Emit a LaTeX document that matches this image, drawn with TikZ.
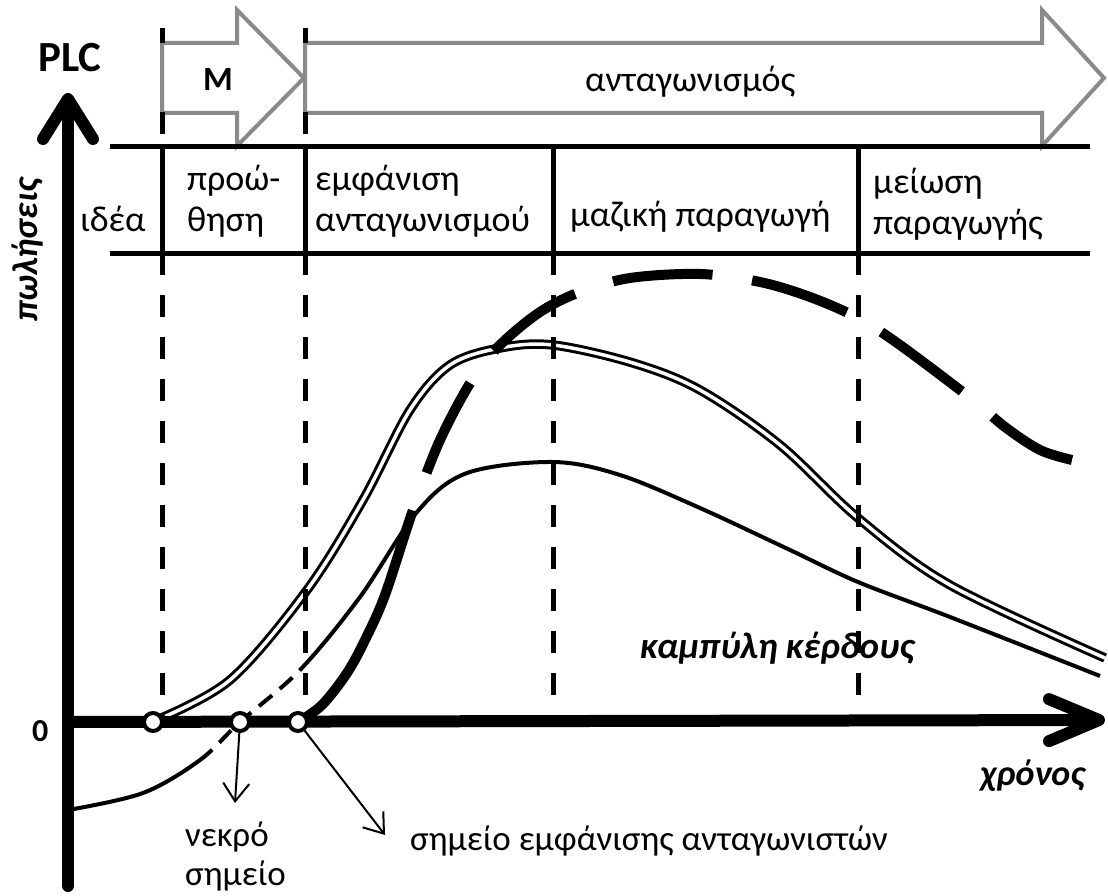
\documentclass[tikz,border=0pt]{standalone}
\usepackage{fontspec}
\setmainfont{Carlito}
\usetikzlibrary{arrows.meta,positioning}
\definecolor{bandgrey}{HTML}{8A8A8A}
\begin{document}
\begin{tikzpicture}[x=1pt,y=-1pt,
 txt/.style={font=\fontsize{36}{41}\selectfont,inner sep=0pt,align=left,anchor=base west},
 small/.style={txt,font=\fontsize{35}{39}\selectfont},
 heavy/.style={txt,font=\fontsize{36}{41}\selectfont\bfseries},
 slant/.style={txt,font=\fontsize{36}{41}\selectfont\bfseries\itshape},
 axis/.style={line width=12pt,line cap=round},
 phase/.style={line width=5pt,dash pattern=on 22pt off 20pt},
 rule/.style={line width=5pt},
 band/.style={draw=bandgrey,line width=4pt,fill=white},
 sales/.style={line width=3pt,double=white,double distance=3.5pt},
 profit/.style={line width=4pt,dash pattern=on 159pt off 10pt on 17pt off 10pt on 17pt off 10pt on 17pt off 10pt on 17pt off 10pt on 3000pt},
 rivals/.style={line width=10pt,dash pattern=on 246pt off 40pt on 100pt off 40pt on 100pt off 40pt on 100pt off 40pt on 100pt off 40pt on 100pt off 40pt on 100pt off 40pt},
 dot/.style={circle,draw,line width=4pt,fill=white,minimum size=18pt,inner sep=0pt},
 ann/.style={-{Straight Barb[length=18pt,width=26pt]},line width=2pt}]
\useasboundingbox (0,0) rectangle (1108,896);
\coordinate (orig) at (68,722); \coordinate (ytop) at (68,93); \coordinate (ybot) at (68,886); \coordinate (xend) at (1105,720);
\draw[band] (162,43) -- (237,43) -- (237,10) -- (304,78) -- (237,146) -- (237,113) -- (162,113) -- cycle;
\draw[band] (305,43) -- (1042,43) -- (1042,10) -- (1104,78) -- (1042,146) -- (1042,113) -- (305,113) -- cycle;
\foreach \x in {162,305} \draw[phase] (\x,28) -- (\x,43) (\x,112) -- (\x,147);
\draw[rule] (110,147) -- (1090,147); \draw[rule] (110,253) -- (1090,253);
\foreach \x in {162,305,553,858} \draw[rule] (\x,147) -- (\x,253);
\draw[sales] plot[smooth,tension=0.55] coordinates {(152,722) (230,680) (307,590) (363,500) (410,410) (450,365) (500,348) (553,345) (633,363) (700,390) (780,445) (858,518) (950,585) (1105,658)};
\draw[profit] plot[smooth,tension=0.55] coordinates {(68,810) (143,793) (200,760) (240,722) (300,670) (360,597) (417,512) (467,473) (553,462) (620,475) (700,508) (790,550) (858,582) (950,617) (1100,676)};
\draw[rivals] plot[smooth,tension=0.55] coordinates {(298,722) (322,705) (347,673) (365,640) (385,595) (413,510) (440,440) (472,380) (500,345) (540,312) (580,292) (630,278) (700,274) (760,282) (810,297) (858,318) (900,345) (973,400) (1005,427) (1040,450) (1072,460)};
\foreach \x in {162,305} \draw[phase] (\x,253) -- (\x,725);
\foreach \x in {553,858} \draw[phase] (\x,253) -- (\x,725);
\draw[axis,-{Straight Barb[length=40pt,width=50pt,round]}] (ybot) -- (ytop);
\draw[axis,-{Straight Barb[length=50pt,width=42pt,round]}] (orig) -- (xend);
\node[dot] (launch) at (153,722) {};
\node[dot] (bep) at (240,722) {};
\node[dot] (entry) at (298,722) {};
\coordinate (bepend) at (235,803); \coordinate (entryend) at (385,835);
\draw[ann] (bep) -- (bepend); \draw[ann] (entry) -- (entryend);
\node[heavy,font=\fontsize{43}{48}\selectfont\bfseries] (plc) at (38,72) {PLC};
\node[heavy,font=\fontsize{32}{36}\selectfont\bfseries] (zero) at (32,741) {0};
\node[slant,rotate=90,anchor=center] (sales) at (27,250) {πωλήσεις};
\node[heavy,font=\fontsize{34}{40}\selectfont\bfseries] (mkt) at (203,91) {M};
\node[txt] (comp) at (585,92) {ανταγωνισμός};
\node[txt] (idea) at (80,232) {ιδέα};
\node[txt] (promo) at (187,232) {προώ-\\θηση};
\node[txt] (rise) at (315,232) {εμφάνιση\\ανταγωνισμού};
\node[txt] (mass) at (570,226) {μαζική παραγωγή};
\node[txt] (cut) at (873,234) {μείωση\\παραγωγής};
\node[slant,font=\fontsize{37}{41}\selectfont\bfseries\itshape] (curve) at (640,658) {καμπύλη κέρδους};
\node[slant] (time) at (980,785) {χρόνος};
\node[small] (beplbl) at (185,885) {νεκρό\\σημείο};
\node[small] (entrylbl) at (410,850) {σημείο εμφάνισης ανταγωνιστών};
\end{tikzpicture}
\end{document}
